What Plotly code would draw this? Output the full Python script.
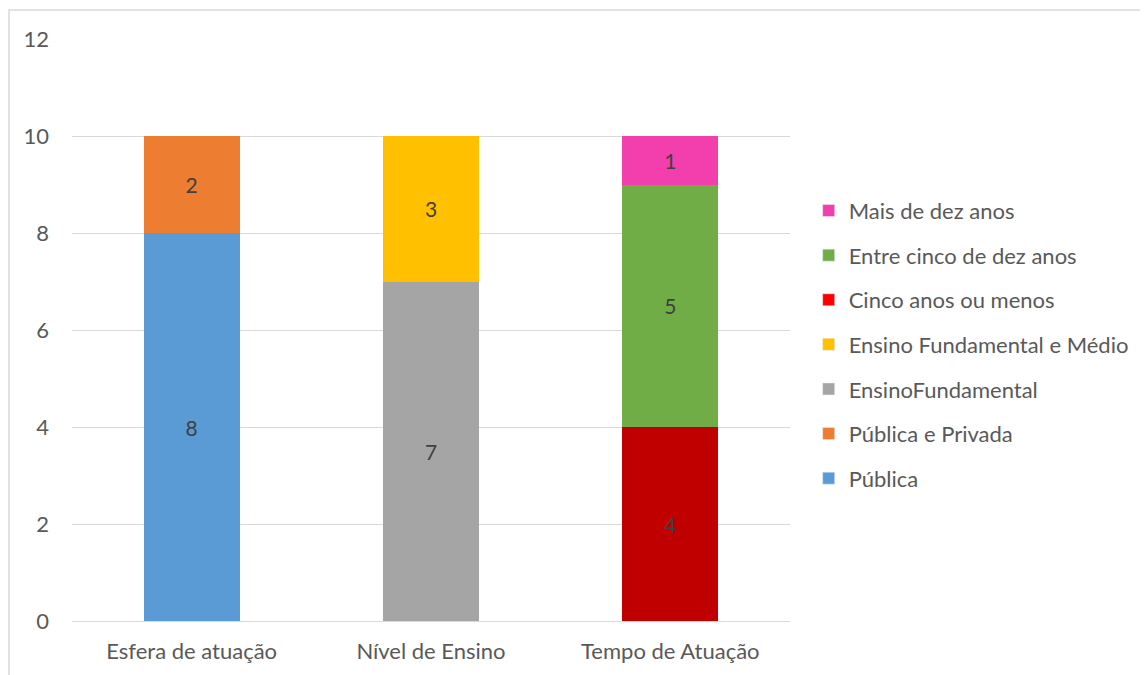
import plotly.graph_objects as go

categories = ["Esfera de atuação", "Nível de Ensino", "Tempo de Atuação"]
series_names = ["Pública", "Pública e Privada", "EnsinoFundamental",
                "Ensino Fundamental e Médio", "Cinco anos ou menos",
                "Entre cinco de dez anos", "Mais de dez anos"]
series_category = [0, 0, 1, 1, 2, 2, 2]
series_values = [8, 2, 7, 3, 4, 5, 1]
bar_colors = ["#5B9BD5", "#ED7D31", "#A5A5A5", "#FFC000", "#C00000", "#70AD47", "#F33FAD"]
legend_colors = ["#5B9BD5", "#ED7D31", "#A5A5A5", "#FFC000", "#FF0000", "#70AD47", "#F33FAD"]
y_ticks = [0, 2, 4, 6, 8, 10, 12]

FONT = "Lato"
TXT = "#595959"

fig = go.Figure()
for i, name in enumerate(series_names):
    fig.add_trace(go.Bar(
        x=[categories[series_category[i]]], y=[series_values[i]],
        name=name, marker=dict(color=bar_colors[i], line=dict(width=0)),
        text=[str(series_values[i])], textposition="inside",
        insidetextanchor="middle",
        textfont=dict(family=FONT, size=21, color="#404040"),
        showlegend=False, hoverinfo="x+y+name",
    ))
# legend entries, top to bottom as in the reference
for i in reversed(range(len(series_names))):
    fig.add_trace(go.Bar(
        x=[None], y=[None], name=series_names[i],
        marker=dict(color=legend_colors[i]),
        legendgroup=series_names[i], showlegend=True,
    ))

fig.update_layout(
    barmode="stack",
    bargap=0.6,
    width=1140, height=667,
    margin=dict(l=64, r=358, t=31, b=54),
    paper_bgcolor="white", plot_bgcolor="white",
    font=dict(family=FONT, size=22, color=TXT),
    uniformtext=dict(minsize=10, mode="show"),
    legend=dict(
        x=1.026, y=0.741, xanchor="left", yanchor="top",
        traceorder="grouped", tracegroupgap=13,
        font=dict(family=FONT, size=22, color=TXT),
        itemwidth=30, bgcolor="rgba(0,0,0,0)",
    ),
    xaxis=dict(
        categoryorder="array", categoryarray=categories,
        showgrid=False, showline=False, ticks="",
        ticklabelstandoff=15,
        tickfont=dict(family=FONT, size=22, color=TXT),
    ),
    yaxis=dict(
        range=[0, 12], tickvals=y_ticks, showgrid=True,
        gridcolor="#D9D9D9", gridwidth=1, zeroline=True,
        zerolinecolor="#D9D9D9", zerolinewidth=1, showline=False,
        ticks="", ticklabelstandoff=22,
        tickfont=dict(family=FONT, size=22, color=TXT),
    ),
    shapes=[dict(type="rect", xref="paper", yref="paper",
                 x0=-0.0877, x1=1.6, y0=-0.2, y1=1.0498,
                 line=dict(color="#D9D9D9", width=1.5), layer="below")],
)

fig.write_html("out.html")
